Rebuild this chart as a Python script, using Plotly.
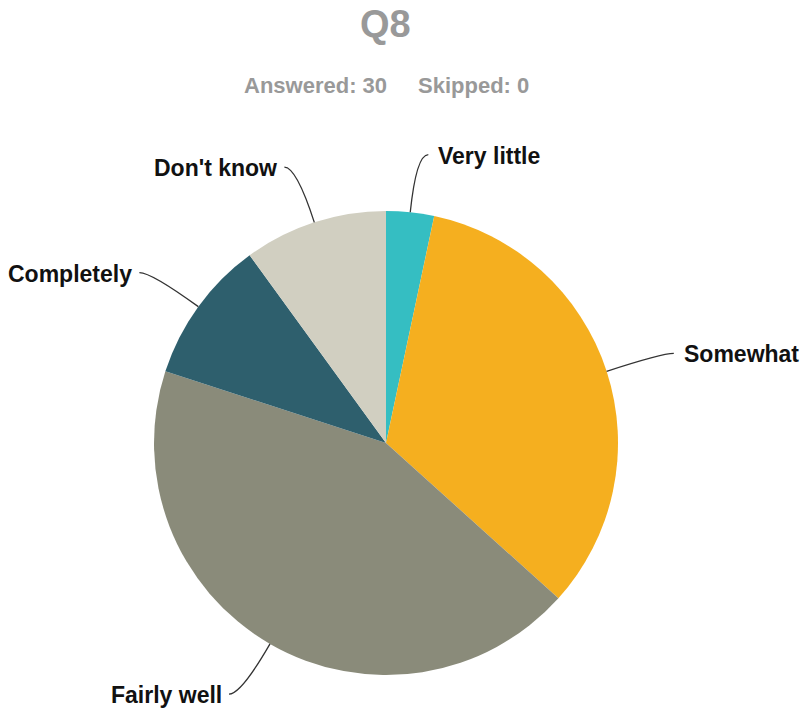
import math
import plotly.graph_objects as go

# Survey responses for Q8
labels = ["Very little", "Somewhat", "Fairly well", "Completely", "Don't know"]
counts = [1, 10, 13, 3, 3]
colors = ["#35BEC2", "#F5AF1F", "#8A8B7A", "#2E5F6D", "#D1CFC1"]

answered = 30
skipped = 0

W, H = 806, 709
CX, CY, R = 386, 443, 232          # pie centre and radius in pixels
LABEL_R = 1.25 * R                 # elbow radius for leader lines
TAIL = 12                          # horizontal tail of leader line
GAP_RIGHT = 8                      # gap between tail and label text (right side)
GAP_LEFT = 5                       # gap between tail and label text (left side)


def px(x):
    return x / W


def py(y):
    return 1 - y / H


fig = go.Figure(
    go.Pie(
        labels=labels,
        values=counts,
        marker=dict(colors=colors, line=dict(width=0)),
        sort=False,
        direction="clockwise",
        rotation=0,
        textinfo="none",
        hoverinfo="label+value+percent",
        showlegend=False,
        domain=dict(x=[px(CX - R), px(CX + R)], y=[py(CY + R), py(CY - R)]),
    )
)

# Leader lines and outside labels, placed from each slice's mid-angle
total = sum(counts)
shapes, annotations = [], []
cum = 0
for lab, val in zip(labels, counts):
    mid = (cum + val / 2) / total * 2 * math.pi
    cum += val
    s, c = math.sin(mid), math.cos(mid)
    x0, y0 = CX + R * s, CY - R * c
    x1, y1 = CX + LABEL_R * s, CY - LABEL_R * c
    side = 1 if s >= 0 else -1
    x2, y2 = x1 + side * TAIL, y1
    path = (f"M {px(x0)},{py(y0)} Q {px(x1)},{py(y1)} {px(x2)},{py(y2)}")
    shapes.append(dict(type="path", path=path, xref="paper", yref="paper",
                       line=dict(color="#333333", width=1.3)))
    gap = GAP_RIGHT if side > 0 else GAP_LEFT
    annotations.append(dict(
        text=lab, x=px(x2 + side * gap), y=py(y2 + 1), xref="paper", yref="paper",
        xanchor="left" if side > 0 else "right", yanchor="middle",
        showarrow=False,
        font=dict(family="Liberation Sans, Arial, sans-serif", size=23,
                  color="#111111", weight="bold"),
    ))

title_font = dict(family="Liberation Sans, Arial, sans-serif", color="#999999",
                  weight="bold")
annotations.append(dict(
    text="Q8", x=px(385), y=py(24), xref="paper", yref="paper",
    xanchor="center", yanchor="middle", showarrow=False,
    font=dict(size=38, **title_font),
))
annotations.append(dict(
    text=f"Answered: {answered}", x=px(389), y=py(85), xref="paper", yref="paper",
    xanchor="right", yanchor="middle", showarrow=False,
    font=dict(size=22, **title_font),
))
annotations.append(dict(
    text=f"Skipped: {skipped}", x=px(416), y=py(85), xref="paper", yref="paper",
    xanchor="left", yanchor="middle", showarrow=False,
    font=dict(size=22, **title_font),
))

fig.update_layout(
    width=W, height=H,
    margin=dict(l=0, r=0, t=0, b=0),
    paper_bgcolor="white", plot_bgcolor="white",
    shapes=shapes, annotations=annotations,
)

fig.write_html("out.html")
